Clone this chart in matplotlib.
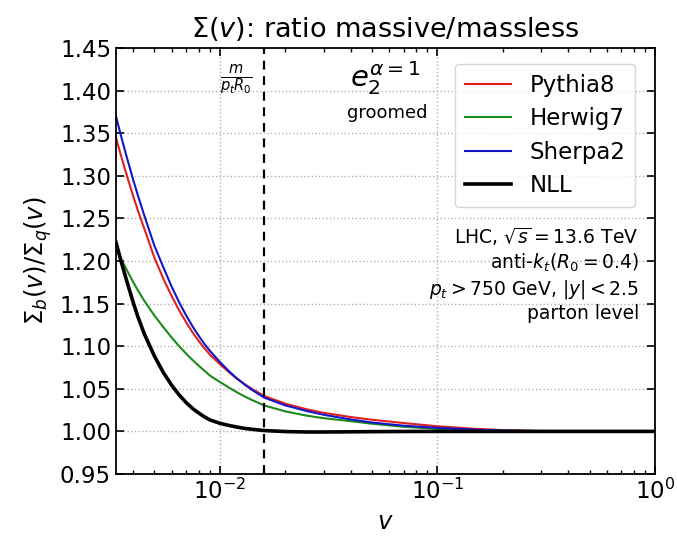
import matplotlib
matplotlib.use("Agg")
import matplotlib.pyplot as plt
from matplotlib.ticker import LogLocator, NullFormatter

v = [0.00333, 0.0035, 0.0037, 0.004, 0.0042, 0.0045, 0.005, 0.0055, 0.006, 0.0065,
     0.007, 0.0075, 0.008, 0.0085, 0.009, 0.01, 0.011, 0.012, 0.013, 0.014, 0.016,
     0.02, 0.025, 0.03, 0.04, 0.05, 0.07, 0.1, 0.15, 0.2, 0.3, 0.5, 1.0]

pythia8 = [1.345, 1.325, 1.3038, 1.2757, 1.2592, 1.2375, 1.204, 1.179, 1.159, 1.142,
           1.128, 1.116, 1.106, 1.0975, 1.090, 1.079, 1.0695, 1.0618, 1.0554, 1.0501, 1.0415,
           1.0325, 1.026, 1.0218, 1.0168, 1.0137, 1.0098, 1.006, 1.003, 1.0015, 1.0005, 1.0, 1.0]
herwig7 = [1.215, 1.2035, 1.1913, 1.175, 1.1655, 1.153, 1.136, 1.1222, 1.1102, 1.1,
           1.0912, 1.0836, 1.077, 1.0712, 1.0655, 1.058, 1.0515, 1.0458, 1.041, 1.037, 1.0304,
           1.0235, 1.0185, 1.0155, 1.012, 1.009, 1.0054, 1.003, 1.0015, 1.0008, 1.0002, 1.0, 1.0]
sherpa2 = [1.370, 1.3483, 1.3254, 1.2949, 1.2769, 1.2529, 1.218, 1.1925, 1.170, 1.1515,
           1.136, 1.123, 1.112, 1.1025, 1.0945, 1.0815, 1.0707, 1.062, 1.0549, 1.0489, 1.0396,
           1.0305, 1.024, 1.0195, 1.014, 1.0104, 1.0067, 1.0042, 1.002, 1.001, 1.0003, 1.0, 1.0]
nll = [1.222, 1.2014, 1.1797, 1.151, 1.1345, 1.1141, 1.0885, 1.069, 1.0543, 1.0428,
       1.0338, 1.0268, 1.0215, 1.017, 1.0135, 1.0095, 1.007, 1.005, 1.0035, 1.0025, 1.001,
       0.9998, 0.9993, 0.9993, 0.9995, 0.9997, 0.9999, 1.0, 1.0, 1.0, 1.0, 1.0, 1.0]

mass_scale = 0.016
yticks = [0.95, 1.00, 1.05, 1.10, 1.15, 1.20, 1.25, 1.30, 1.35, 1.40, 1.45]

fig = plt.figure(figsize=(6.77, 5.39), dpi=100)
ax = fig.add_axes([0.1713, 0.1206, 0.7962, 0.7904])

ax.plot(v, pythia8, color="#e02020", lw=1.5, label="Pythia8")
ax.plot(v, herwig7, color="#1a8a1a", lw=1.5, label="Herwig7")
ax.plot(v, sherpa2, color="#1515c8", lw=1.5, label="Sherpa2")
ax.plot(v, nll, color="black", lw=2.6, label="NLL")
ax.axvline(mass_scale, color="black", ls="--", lw=1.6, dashes=(4, 3))

ax.set_xscale("log")
ax.set_xlim(0.00333, 1.0)
ax.set_ylim(0.95, 1.45)
ax.set_yticks(yticks)
ax.set_yticklabels([f"{t:.2f}" for t in yticks])
ax.xaxis.set_major_locator(LogLocator(base=10, numticks=10))
ax.xaxis.set_minor_locator(LogLocator(base=10, subs=range(2, 10), numticks=20))
ax.xaxis.set_minor_formatter(NullFormatter())

ax.grid(True, which="major", ls=":", color="#b0b0b0", lw=1.0)
ax.tick_params(which="both", direction="in", top=True, right=True, labelsize=16.5)
ax.tick_params(which="major", length=6, width=1.2)
ax.tick_params(which="minor", length=3, width=1.0)
for s in ax.spines.values():
    s.set_linewidth(1.3)

ax.set_title(r"$\Sigma(v)$: ratio massive/massless", fontsize=19.5, pad=8)
ax.set_xlabel(r"$v$", fontsize=17.5)
ax.set_ylabel(r"$\Sigma_b(v)/\Sigma_q(v)$", fontsize=17.5)

leg = ax.legend(loc="upper right", fontsize=16.5, handlelength=2.0,
                borderpad=0.45, labelspacing=0.45, handletextpad=0.8,
                bbox_to_anchor=(0.985, 0.99))

ax.text(0.01197, 1.413, r"$\frac{m}{p_t R_0}$", fontsize=15, ha="center", va="center")
ax.text(0.0574, 1.415, r"$e_2^{\alpha=1}$", fontsize=21, ha="center", va="center")
ax.text(0.0585, 1.374, "groomed", fontsize=13, ha="center", va="center")

tx = 0.97
fs = 13.5
ax.text(tx, 0.556, r"LHC, $\sqrt{s}=13.6$ TeV", transform=ax.transAxes, ha="right", va="center", fontsize=fs)
ax.text(tx, 0.495, r"anti-$k_t(R_0=0.4)$", transform=ax.transAxes, ha="right", va="center", fontsize=fs)
ax.text(tx, 0.434, r"$p_t > 750$ GeV, $|y|<2.5$", transform=ax.transAxes, ha="right", va="center", fontsize=fs)
ax.text(tx, 0.376, "parton level", transform=ax.transAxes, ha="right", va="center", fontsize=fs)

fig.savefig("out.png", dpi=100)
